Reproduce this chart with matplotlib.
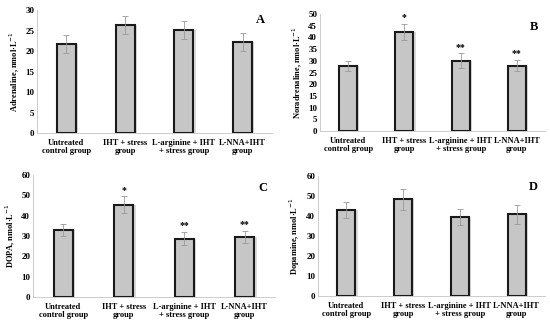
import matplotlib.pyplot as plt

groups = ['Untreated\ncontrol group', 'IHT + stress\ngroup',
          'L-arginine + IHT\n+ stress group', 'L-NNA+IHT\ngroup']

adrenaline = [21.6, 26.3, 25.1, 22.2]
adrenaline_err = [2.2, 2.2, 2.2, 2.2]
adrenaline_sig = ['', '', '', '']

noradrenaline = [27.8, 42.4, 30.1, 27.9]
noradrenaline_err = [2.1, 3.4, 3.1, 2.4]
noradrenaline_sig = ['', '*', '**', '**']

dopa = [32.8, 45.4, 28.6, 29.7]
dopa_err = [3.0, 4.1, 3.2, 3.0]
dopa_sig = ['', '*', '**', '**']

dopamine = [43.2, 48.3, 39.5, 40.8]
dopamine_err = [4.0, 5.3, 4.2, 4.7]
dopamine_sig = ['', '', '', '']

W, H = 550, 325
fig = plt.figure(figsize=(5.5, 3.25), dpi=100)
plt.rcParams['font.family'] = ['Liberation Serif', 'DejaVu Serif']


def panel(rect, vals, errs, sig, ylim, step, ylabel, letter, ly):
    l, t, r, b = rect
    ax = fig.add_axes([l / W, 1 - b / H, (r - l) / W, (b - t) / H])
    x = range(len(vals))
    # light shadow on the right of each bar
    ax.bar([i + 0.04 for i in x], vals, width=0.32, color='#dadada', zorder=1)
    ax.bar(x, vals, width=0.32, color='#c6c6c6', edgecolor='#1a1a1a',
           linewidth=1.5, zorder=2)
    ax.errorbar(x, vals, yerr=errs, fmt='none', ecolor='#999999',
                elinewidth=0.6, capsize=2, capthick=0.6, zorder=3)
    for i, s in enumerate(sig):
        if s:
            ax.text(i, vals[i] + errs[i] + ylim * 0.015, s, ha='center',
                    va='bottom', fontsize=7, fontweight='bold')
    ax.set_xlim(-0.5, 3.5)
    ax.set_ylim(0, ylim)
    ax.set_yticks(range(0, ylim + 1, step))
    ax.set_xticks(list(x))
    ax.set_xticklabels(groups, fontsize=6, fontweight='bold', linespacing=1.1)
    for lab in ax.get_yticklabels():
        lab.set_fontsize(6.5)
        lab.set_fontweight('bold')
    ax.tick_params(length=0, pad=2)
    ax.tick_params(axis='x', pad=4)
    for s in ['top', 'right']:
        ax.spines[s].set_visible(False)
    for s in ['left', 'bottom']:
        ax.spines[s].set_color('#c4c4c4')
        ax.spines[s].set_linewidth(0.6)
    ax.set_ylabel(ylabel, fontsize=6, fontweight='bold', labelpad=3)
    ax.text(0.97, ly, letter, transform=ax.transAxes, ha='right', va='top',
            fontsize=9, fontweight='bold')
    return ax


panel((37, 10, 272, 133), adrenaline, adrenaline_err, adrenaline_sig,
      30, 5, 'Adrenaline, nmol·L$^{-1}$', 'A', 0.97)
panel((320, 14, 545, 131), noradrenaline, noradrenaline_err, noradrenaline_sig,
      50, 5, 'Noradrenaline, nmol·L$^{-1}$', 'B', 0.94)
panel((33, 175, 275, 297), dopa, dopa_err, dopa_sig,
      60, 10, 'DOPA, nmol·L$^{-1}$', 'C', 0.94)
panel((318, 176, 545, 296), dopamine, dopamine_err, dopamine_sig,
      60, 10, 'Dopamine, nmol·L$^{-1}$', 'D', 0.96)

fig.savefig('out.png', dpi=100)
